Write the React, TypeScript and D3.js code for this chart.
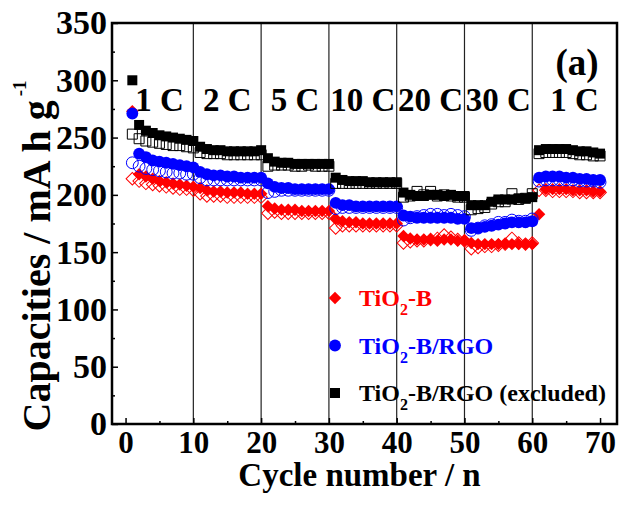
import React, { useEffect, useRef } from "react";
import * as d3 from "d3";

// cycle index (x) for every point
const cycles = d3.range(1, 71);

// rate steps, 10 cycles each
const rateLabels = ["1 C", "2 C", "5 C", "10 C", "20 C", "30 C", "1 C"];
const rateBounds = [10, 20, 30, 40, 50, 60];

// TiO2-B
const redFilled = [
  273, 218, 216, 214, 212, 211, 210, 209, 208, 207,
  206, 204, 203, 203, 202, 202, 202, 201, 201, 201,
  190, 188, 187, 187, 187, 186, 186, 186, 186, 186,
  179, 177, 176, 176, 175, 175, 175, 175, 175, 175,
  164, 162, 161, 161, 161, 160, 161, 161, 160, 160,
  158, 157, 157, 157, 157, 157, 157, 157, 157, 157,
  183, 205, 205, 205, 205, 204, 204, 204, 203, 203,
];
const redOpen = [
  214, 212, 210, 209, 208, 207, 206, 205, 205, 204,
  201, 199, 199, 199, 198, 198, 198, 198, 198, 198,
  184, 185, 184, 184, 184, 184, 184, 184, 184, 184,
  171, 173, 173, 173, 173, 173, 173, 173, 173, 173,
  158, 159, 160, 160, 161, 162, 165, 163, 161, 160,
  153, 154, 155, 155, 156, 157, 162, 158, 157, 158,
  204, 204, 203, 203, 203, 203, 202, 202, 202, 202,
];

// TiO2-B/RGO
const blueFilled = [
  271, 236, 233, 230, 229, 228, 227, 226, 225, 224,
  220, 218, 217, 217, 216, 216, 215, 215, 215, 215,
  210, 207, 206, 206, 205, 205, 205, 205, 205, 205,
  193, 191, 191, 190, 190, 190, 190, 190, 190, 190,
  182, 181, 180, 180, 180, 180, 180, 180, 179, 179,
  171, 171, 172, 173, 174, 175, 176, 176, 176, 177,
  215, 216, 216, 216, 215, 215, 214, 214, 213, 213,
];
const blueOpen = [
  228, 225, 223, 222, 221, 220, 219, 219, 218, 218,
  215, 213, 213, 213, 213, 213, 213, 213, 213, 213,
  202, 203, 204, 204, 204, 204, 204, 204, 204, 204,
  188, 189, 189, 189, 189, 189, 189, 189, 189, 189,
  178, 180, 181, 182, 183, 183, 182, 183, 182, 181,
  169, 171, 173, 174, 176, 176, 178, 177, 177, 179,
  212, 213, 213, 213, 213, 213, 212, 212, 212, 211,
];

// TiO2-B/RGO (excluded)
const blackFilled = [
  300, 261, 256, 254, 252, 251, 250, 249, 248, 247,
  242, 240, 239, 239, 238, 238, 238, 238, 238, 239,
  232, 229, 228, 228, 227, 227, 227, 227, 227, 227,
  215, 213, 212, 212, 212, 211, 211, 211, 211, 211,
  202, 200, 199, 199, 200, 200, 199, 200, 199, 199,
  191, 191, 191, 194, 196, 196, 196, 197, 197, 198,
  239, 240, 240, 240, 240, 239, 238, 238, 237, 236,
];
const blackOpen = [
  253, 249, 247, 246, 245, 244, 243, 243, 242, 241,
  237, 236, 236, 236, 235, 235, 235, 235, 235, 235,
  225, 226, 226, 226, 225, 225, 226, 225, 225, 225,
  210, 210, 210, 210, 210, 210, 210, 210, 210, 210,
  198, 199, 203, 200, 203, 199, 200, 199, 198, 198,
  187, 188, 189, 192, 194, 194, 201, 196, 197, 201,
  236, 237, 237, 237, 237, 236, 235, 235, 234, 234,
];

const xTicks = [0, 10, 20, 30, 40, 50, 60, 70];
const xMinor = [5, 15, 25, 35, 45, 55, 65];
const yTicks = [0, 50, 100, 150, 200, 250, 300, 350];
const yMinor = [25, 75, 125, 175, 225, 275, 325];

const FONT = "'Liberation Serif', 'Times New Roman', serif";

const App = () => {
  const ref = useRef<SVGSVGElement>(null);

  useEffect(() => {
    const width = 626;
    const height = 505;
    const margin = { top: 23, right: 9, bottom: 81, left: 112 };
    const x0 = margin.left;
    const x1 = width - margin.right;
    const y0 = height - margin.bottom;
    const y1 = margin.top;

    const svg = d3.select(ref.current).attr("width", width).attr("height", height);

    const x = d3.scaleLinear().domain([-2, 72.5]).range([x0, x1]);
    const y = d3.scaleLinear().domain([0, 350]).range([y0, y1]);

    // rate separators
    svg
      .append("g")
      .selectAll("line")
      .data(rateBounds)
      .enter()
      .append("line")
      .attr("x1", (d) => x(d))
      .attr("x2", (d) => x(d))
      .attr("y1", y1)
      .attr("y2", y0)
      .attr("stroke", "#222")
      .attr("stroke-width", 1.2);

    // rate labels, centred in each step
    const xMax = x.domain()[1];
    svg
      .append("g")
      .selectAll("text")
      .data(rateLabels)
      .enter()
      .append("text")
      .attr("x", (d, i) => (i < 6 ? x(i * 10 + 5) : x((60 + xMax) / 2)))
      .attr("y", y1 + 88)
      .attr("text-anchor", "middle")
      .attr("font-family", FONT)
      .attr("font-weight", "bold")
      .attr("font-size", 33)
      .text((d) => d);

    svg
      .append("text")
      .attr("x", x1 - 40)
      .attr("y", y1 + 52)
      .attr("text-anchor", "middle")
      .attr("font-family", FONT)
      .attr("font-weight", "bold")
      .attr("font-size", 37)
      .text("(a)");

    // markers
    const square = d3.symbol().type(d3.symbolSquare).size(100)();
    const circle = d3.symbol().type(d3.symbolCircle).size(110)();
    const diamond = d3.symbol().type(d3.symbolSquare).size(78)();

    const drawSeries = (values, path, color, filled, rotate) => {
      svg
        .append("g")
        .selectAll("path")
        .data(values)
        .enter()
        .append("path")
        .attr("d", path)
        .attr(
          "transform",
          (d, i) => `translate(${x(cycles[i])},${y(d)})${rotate ? " rotate(45)" : ""}`
        )
        .attr("fill", filled ? color : "none")
        .attr("stroke", color)
        .attr("stroke-width", filled ? 0 : 1);
    };

    drawSeries(redOpen, diamond, "#ff0000", false, true);
    drawSeries(redFilled, diamond, "#ff0000", true, true);
    drawSeries(blueOpen, circle, "#0000ff", false, false);
    drawSeries(blueFilled, circle, "#0000ff", true, false);
    drawSeries(blackOpen, square, "#000", false, false);
    drawSeries(blackFilled, square, "#000", true, false);

    // axes
    const xAxis = svg
      .append("g")
      .attr("transform", `translate(0,${y0})`)
      .call(d3.axisBottom(x).tickValues(xTicks).tickSize(-6).tickSizeOuter(0).tickPadding(7));
    svg
      .append("g")
      .attr("transform", `translate(0,${y0})`)
      .call(d3.axisBottom(x).tickValues(xMinor).tickSize(-3).tickSizeOuter(0).tickFormat(() => ""));
    const yAxis = svg
      .append("g")
      .attr("transform", `translate(${x0},0)`)
      .call(d3.axisLeft(y).tickValues(yTicks).tickSize(-6).tickSizeOuter(0).tickPadding(5));
    svg
      .append("g")
      .attr("transform", `translate(${x0},0)`)
      .call(d3.axisLeft(y).tickValues(yMinor).tickSize(-3).tickSizeOuter(0).tickFormat(() => ""));

    svg.selectAll(".domain").remove();
    svg.selectAll(".tick line").attr("stroke", "#000").attr("stroke-width", 1.5);
    xAxis
      .selectAll("text")
      .attr("font-family", FONT)
      .attr("font-weight", "bold")
      .attr("font-size", 31)
      .attr("fill", "#000");
    yAxis
      .selectAll("text")
      .attr("font-family", FONT)
      .attr("font-weight", "bold")
      .attr("font-size", 34)
      .attr("fill", "#000");

    // frame
    svg
      .append("rect")
      .attr("x", x0)
      .attr("y", y1)
      .attr("width", x1 - x0)
      .attr("height", y0 - y1)
      .attr("fill", "none")
      .attr("stroke", "#000")
      .attr("stroke-width", 2.5);

    // axis titles
    svg
      .append("text")
      .attr("x", (x0 + x1) / 2 - 5)
      .attr("y", height - 19)
      .attr("text-anchor", "middle")
      .attr("font-family", FONT)
      .attr("font-weight", "bold")
      .attr("font-size", 33)
      .text("Cycle number / n");

    const yTitle = svg
      .append("text")
      .attr("transform", `translate(50,256) rotate(-90)`)
      .attr("text-anchor", "middle")
      .attr("font-family", FONT)
      .attr("font-weight", "bold")
      .attr("font-size", 40);
    yTitle.append("tspan").text("Capacities / mA h g");
    yTitle.append("tspan").attr("dy", -24).attr("dx", 4).attr("font-size", 19).text("-1");

    // legend
    const legend = [
      { name: "-B", color: "#ff0000", path: diamond, rotate: true },
      { name: "-B/RGO", color: "#0000ff", path: circle, rotate: false },
      { name: "-B/RGO (excluded)", color: "#000", path: square, rotate: false },
    ];
    const lg = svg.append("g").attr("transform", "translate(335,298)");
    legend.forEach((d, i) => {
      lg.append("path")
        .attr("d", d.path)
        .attr("transform", `translate(0,${i * 47.5})${d.rotate ? " rotate(45)" : ""}`)
        .attr("fill", d.color);
      const t = lg
        .append("text")
        .attr("x", 24)
        .attr("y", i * 47.5 + 8)
        .attr("font-family", FONT)
        .attr("font-weight", "bold")
        .attr("font-size", 24)
        .attr("fill", d.color);
      t.append("tspan").text("TiO");
      t.append("tspan").attr("dy", 9).attr("font-size", 16).text("2");
      t.append("tspan").attr("dy", -9).text(d.name);
    });

    return () => {
      svg.selectAll("*").remove();
    };
  }, []);

  return (
    <svg
      ref={ref}
      style={{ position: "absolute", left: 0, top: 0, background: "#fff" }}
    ></svg>
  );
};

export default App;
